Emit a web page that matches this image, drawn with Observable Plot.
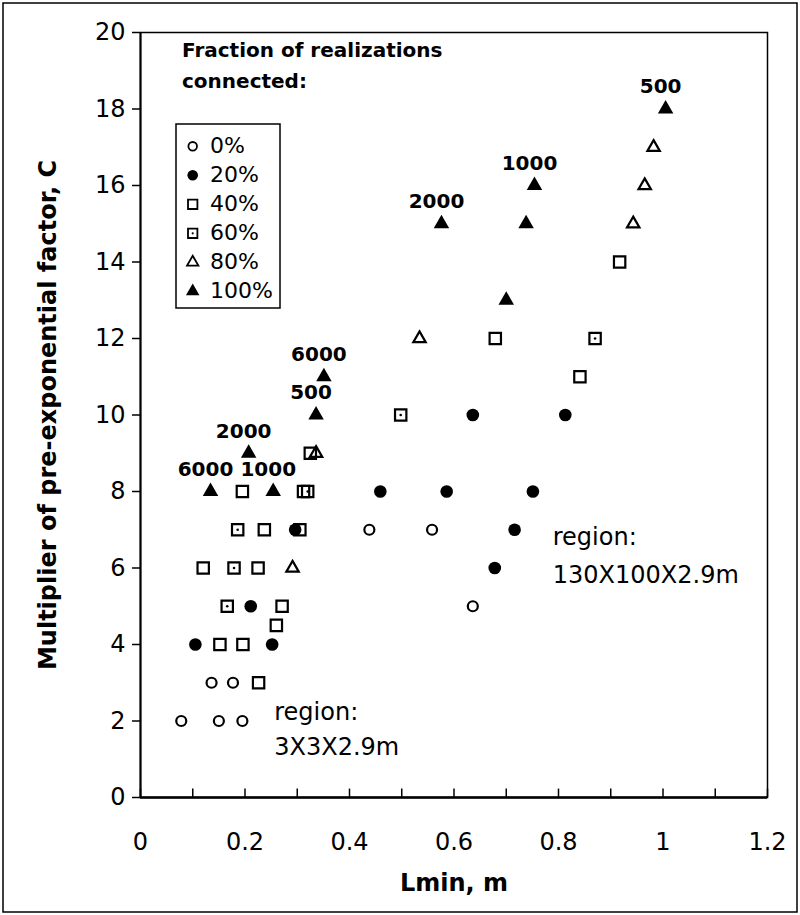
<!DOCTYPE html>
<html>
<head>
<meta charset="utf-8">
<script src="https://cdn.jsdelivr.net/npm/d3@7"></script>
<script src="https://cdn.jsdelivr.net/npm/@observablehq/plot@0.6"></script>
<style>
  html, body { margin: 0; padding: 0; background: #fff; }
  #wrap { position: relative; width: 800px; height: 915px; font-family: "DejaVu Sans", sans-serif; }
  #wrap > svg { position: absolute; left: 0; top: 0; }
  #overlay { pointer-events: none; }
</style>
</head>
<body>
<div id="wrap"></div>
<script>
// ---- tick labels ----
const xTickLabels = [0, 0.2, 0.4, 0.6, 0.8, 1, 1.2];
const xMinorTicks = [0, 0.1, 0.2, 0.3, 0.4, 0.5, 0.6, 0.7, 0.8, 0.9, 1.0, 1.1, 1.2];
const yTickLabels = [0, 2, 4, 6, 8, 10, 12, 14, 16, 18, 20];

// ---- series: Lmin (m) and C ----
// 0% connected
const lmin0 = [0.078, 0.150, 0.195, 0.136, 0.177, 0.438, 0.558, 0.636];
const c0    = [2, 2, 2, 3, 3, 7, 7, 5];
// 20% connected
const lmin20 = [0.105, 0.252, 0.211, 0.296, 0.459, 0.586, 0.751, 0.716, 0.678, 0.636, 0.813];
const c20    = [4, 4, 5, 7, 8, 8, 8, 7, 6, 10, 10];
// 40% connected
const lmin40 = [0.226, 0.152, 0.196, 0.260, 0.271, 0.120, 0.225, 0.237, 0.195, 0.312, 0.325, 0.679, 0.841, 0.917];
const c40    = [3, 4, 4, 4.5, 5, 6, 6, 7, 8, 8, 9, 12, 11, 14];
// 60% connected
const lmin60 = [0.166, 0.179, 0.186, 0.305, 0.320, 0.498, 0.870];
const c60    = [5, 6, 7, 7, 8, 10, 12];
// 80% connected
const lmin80 = [0.291, 0.336, 0.534, 0.943, 0.965, 0.982];
const c80    = [6, 9, 12, 15, 16, 17];
// 100% connected
const lmin100  = [0.134, 0.254, 0.207, 0.336, 0.351, 0.700, 0.576, 0.738, 0.754, 1.005];
const c100     = [8, 8, 9, 10, 11, 13, 15, 15, 16, 18];
const label100 = ["6000", "1000", "2000", "500", "6000", "", "2000", "", "1000", "500"];

// ---- annotations ----
const regionText = ["region:", "130X100X2.9m", "region:", "3X3X2.9m"];
const regionX    = [0.789, 0.789, 0.256, 0.256];
const regionY    = [6.79, 5.80, 2.24, 1.30];

const legendLabels = ["0%", "20%", "40%", "60%", "80%", "100%"];
const legendTitle  = ["Fraction of realizations", "connected:"];
const xTitle = "Lmin, m";
const yTitle = "Multiplier of pre-exponential factor, C";

const pts = (xs, ys, extra) => xs.map((x, i) => ({x, y: ys[i], label: extra ? extra[i] : ""}));
const d0 = pts(lmin0, c0), d20 = pts(lmin20, c20), d40 = pts(lmin40, c40),
      d60 = pts(lmin60, c60), d80 = pts(lmin80, c80), d100 = pts(lmin100, c100, label100);
const annos = regionText.map((t, i) => ({t, x: regionX[i], y: regionY[i]}));

const chart = Plot.plot({
  width: 800, height: 915,
  marginLeft: 140, marginRight: 33, marginTop: 32, marginBottom: 118,
  x: {domain: [0, 1.2]},
  y: {domain: [0, 20]},
  style: {fontFamily: "DejaVu Sans, sans-serif", fontSize: "24px", color: "#000", background: "transparent"},
  marks: [
    Plot.frame({stroke: "#000", strokeWidth: 1.5}),
    Plot.ruleX(xMinorTicks, {y1: 0, y2: 0.22, stroke: "#000", strokeWidth: 1.5}),
    Plot.axisX({ticks: xTickLabels, tickSize: 0, tickPadding: 35, tickFormat: d => String(d), label: null}),
    Plot.axisY({ticks: yTickLabels, tickSize: 8, tickPadding: 7, strokeWidth: 1.5, tickFormat: d => String(d), label: null}),
    Plot.ruleY([0], {stroke: "#000", strokeWidth: 2.5}),
    Plot.ruleX([0], {stroke: "#000", strokeWidth: 2}),
    Plot.text([xTitle], {frameAnchor: "bottom", dy: 93, lineAnchor: "bottom", text: d => d, fontWeight: "bold", fontSize: 24}),
    Plot.text([yTitle], {frameAnchor: "left", dx: -102, rotate: -90, textAnchor: "middle", lineAnchor: "top", text: d => d, fontWeight: "bold", fontSize: 24}),
    // markers
    Plot.dot(d0, {x: "x", y: "y", r: 5, stroke: "#000", strokeWidth: 2.2, fill: "none"}),
    Plot.dot(d20, {x: "x", y: "y", r: 6.3, fill: "#000", stroke: "none"}),
    Plot.dot(d40, {x: "x", y: "y", symbol: "square", r: 6.4, stroke: "#000", strokeWidth: 2.2, fill: "none"}),
    Plot.dot(d60, {x: "x", y: "y", symbol: "square", r: 6.4, stroke: "#000", strokeWidth: 2.2, fill: "none"}),
    Plot.dot(d60, {x: "x", y: "y", r: 1.3, fill: "#000", stroke: "none"}),
    Plot.dot(d80, {x: "x", y: "y", symbol: "triangle", r: 4.6, stroke: "#000", strokeWidth: 2.2, fill: "none"}),
    Plot.dot(d100, {x: "x", y: "y", symbol: "triangle", r: 5.75, fill: "#000", stroke: "none"}),
    Plot.text(d100, {x: "x", y: "y", text: "label", dy: -22, dx: -5, fontWeight: "bold", fontSize: 20}),
    Plot.text(annos, {x: "x", y: "y", text: "t", textAnchor: "start", fontSize: 24})
  ]
});
const wrap = document.getElementById("wrap");
wrap.appendChild(chart);

// ---- overlay: figure border + legend ----
const ov = d3.select(wrap).append("svg").attr("id", "overlay")
  .attr("width", 800).attr("height", 915)
  .style("font-family", "DejaVu Sans, sans-serif");
ov.append("rect").attr("x", 3).attr("y", 3).attr("width", 794).attr("height", 909)
  .attr("fill", "none").attr("stroke", "#000").attr("stroke-width", 1.5);
legendTitle.forEach((t, i) => {
  ov.append("text").attr("x", 182).attr("y", 57 + i * 31).attr("font-size", 20)
    .attr("font-weight", "bold").text(t);
});
ov.append("rect").attr("x", 176).attr("y", 124).attr("width", 104).attr("height", 184)
  .attr("fill", "#fff").attr("stroke", "#000").attr("stroke-width", 1.5);
const sym = (type, r) => d3.symbol(type, r * r * Math.PI)();
const swatches = [
  {d: sym(d3.symbolCircle, 4.3), fill: "none", stroke: "#000", sw: 1.8},
  {d: sym(d3.symbolCircle, 5.3), fill: "#000", stroke: "none", sw: 0},
  {d: sym(d3.symbolSquare, 5.3), fill: "none", stroke: "#000", sw: 1.8},
  {d: sym(d3.symbolSquare, 5.3), fill: "none", stroke: "#000", sw: 1.8, dot: true},
  {d: sym(d3.symbolTriangle, 4.2), fill: "none", stroke: "#000", sw: 1.8},
  {d: sym(d3.symbolTriangle, 5.0), fill: "#000", stroke: "none", sw: 0}
];
legendLabels.forEach((lab, i) => {
  const base = 153.3 + i * 29;
  const s = swatches[i];
  const g = ov.append("g").attr("transform", `translate(192.7,${base - 7})`);
  g.append("path").attr("d", s.d).attr("fill", s.fill).attr("stroke", s.stroke).attr("stroke-width", s.sw);
  if (s.dot) g.append("circle").attr("r", 1.1).attr("fill", "#000");
  ov.append("text").attr("x", 210).attr("y", base).attr("font-size", 22).text(lab);
});
</script>
</body>
</html>
